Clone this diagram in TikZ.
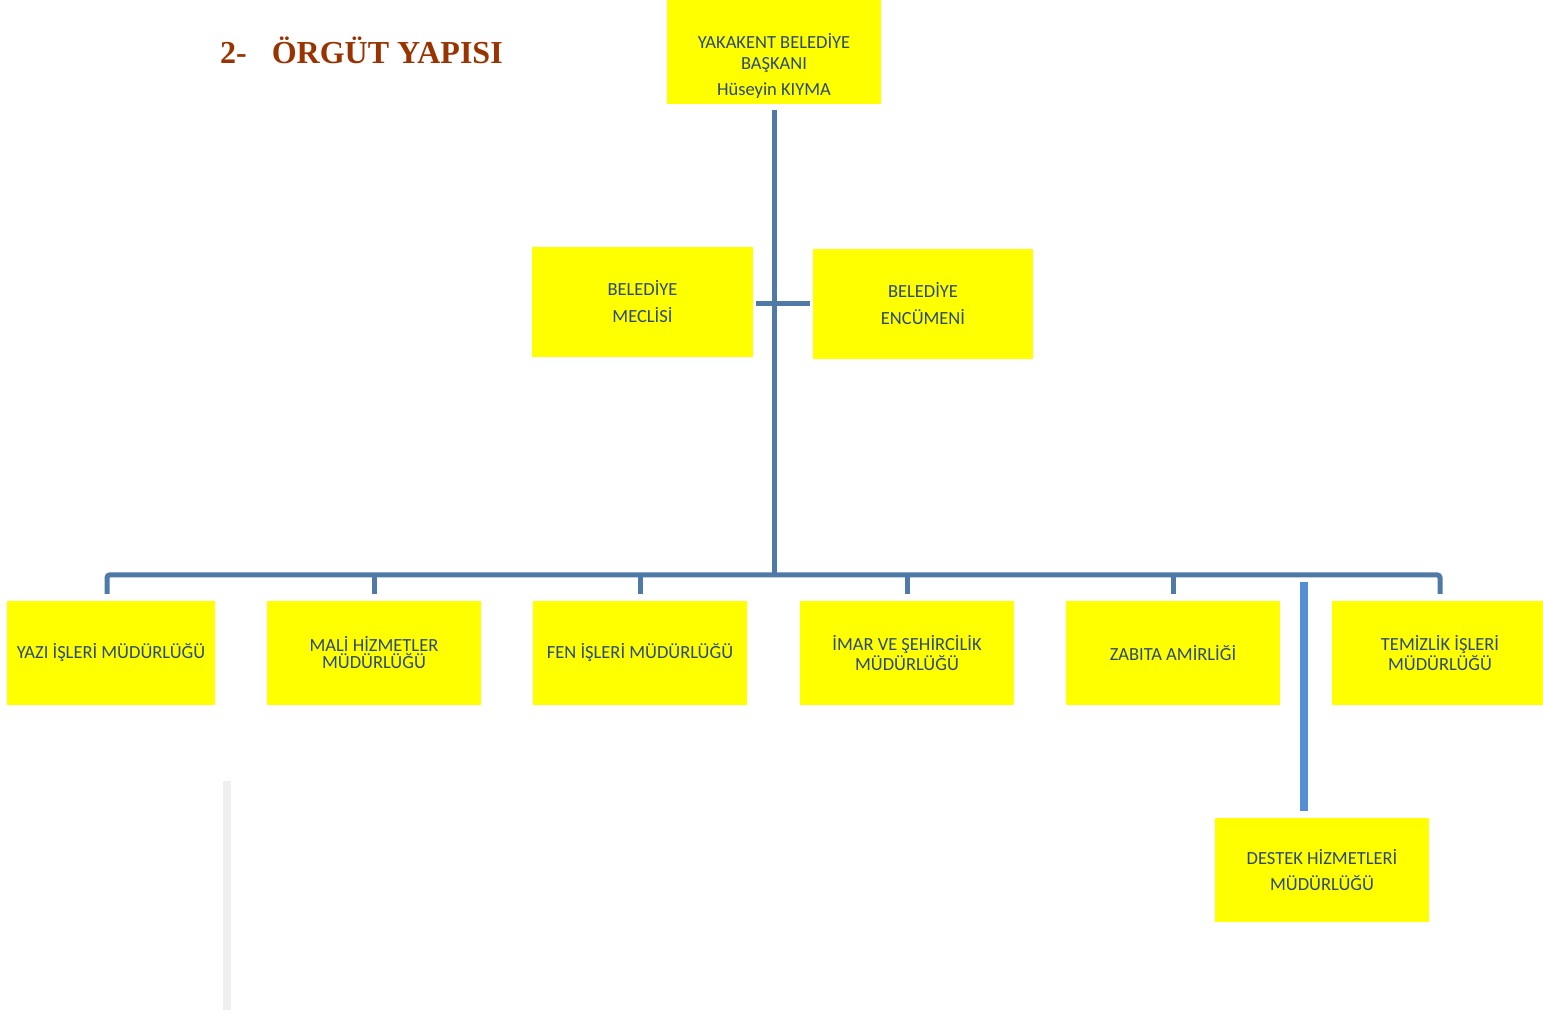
\documentclass[tikz,border=0pt]{standalone}
\usepackage{fontspec}
\setmainfont{Carlito}
\newfontfamily\titlefont{Liberation Serif}
\definecolor{boxyellow}{HTML}{FFFF00}
\definecolor{boxtext}{HTML}{2B4A72}
\definecolor{connblue}{HTML}{4F79A6}
\definecolor{connlight}{HTML}{558ED5}
\definecolor{titlebrown}{HTML}{993300}
\definecolor{barGray}{HTML}{EFEFEF}
\tikzset{
  orgbox/.style={rectangle, fill=boxyellow, inner sep=0pt, align=center,
    text=boxtext, font=\fontsize{18.5}{21}\selectfont},
  conn/.style={draw=connblue, line width=5pt},
  connB/.style={draw=connlight, line width=8pt},
}
\begin{document}
\begin{tikzpicture}[x=1pt,y=-1pt]
\useasboundingbox (0,0) rectangle (1543,1014);
\clip (0,0) rectangle (1543,1014);
% title
\node[anchor=west, text=titlebrown, font=\titlefont\bfseries\fontsize{32}{36}\selectfont, inner sep=0pt] (title) at (220,50) {2-\hspace{25pt}ÖRGÜT YAPISI};
% top box
\node[orgbox, minimum width=214pt, minimum height=104pt] (top) at (774,52) {};
\node[orgbox, fill=none] (toptext) at (774,66) {YAKAKENT BELEDİYE\\BAŞKANI\\[5pt]Hüseyin KIYMA};
% middle boxes
\node[orgbox, minimum width=221pt, minimum height=110pt, font=\fontsize{18.5}{27}\selectfont] (mec) at (642.5,302) {BELEDİYE\\MECLİSİ};
\node[orgbox, minimum width=220pt, minimum height=110pt, font=\fontsize{18.5}{27}\selectfont] (enc) at (923,304) {BELEDİYE\\ENCÜMENİ};
% bottom row
\tikzset{rowbox/.style={orgbox, minimum height=104pt, font=\fontsize{18.5}{17}\selectfont}}
\node[rowbox, minimum width=208pt] (b1) at (111,653) {YAZI İŞLERİ MÜDÜRLÜĞÜ};
\node[rowbox, minimum width=214pt] (b2) at (374,653) {MALİ HİZMETLER\\MÜDÜRLÜĞÜ};
\node[rowbox, minimum width=214pt] (b3) at (640,653) {FEN İŞLERİ MÜDÜRLÜĞÜ};
\node[rowbox, minimum width=214pt] (b4) at (907,653) {İMAR VE ŞEHİRCİLİK\\MÜDÜRLÜĞÜ};
\node[rowbox, minimum width=214pt] (b5) at (1173,653) {ZABITA AMİRLİĞİ};
\node[rowbox, minimum width=216pt] (b6) at (1440,653) {TEMİZLİK İŞLERİ\\MÜDÜRLÜĞÜ};
\node[orgbox, minimum width=214pt, minimum height=104pt, font=\fontsize{18.5}{26}\selectfont] (des) at (1322,870) {DESTEK HİZMETLERİ\\MÜDÜRLÜĞÜ};
% connectors
\coordinate (bus) at (774,575);
\coordinate (cross) at (774,303);
\coordinate (dtop) at (1304,582);
\draw[conn] ([yshift=-6pt]top.south) -- (top.south |- bus);
\draw[conn] ([xshift=3pt]mec.east |- cross) -- ([xshift=-3pt]enc.west |- cross);
\draw[conn, rounded corners=3pt] ([xshift=-4pt,yshift=7pt]b1.north) -- ([xshift=-4pt,yshift=26pt]b1.north) -- ([yshift=26pt]b6.north) -- ([yshift=7pt]b6.north);
\foreach \b in {b2,b3,b4,b5}{
  \draw[conn] ([yshift=7pt]\b.north) -- ([yshift=26pt]\b.north);
}
\draw[connB] (dtop) -- ([yshift=7pt]des.north -| dtop);
% gray bar
\fill[barGray] (223,781) rectangle (231,1010);
\end{tikzpicture}
\end{document}
